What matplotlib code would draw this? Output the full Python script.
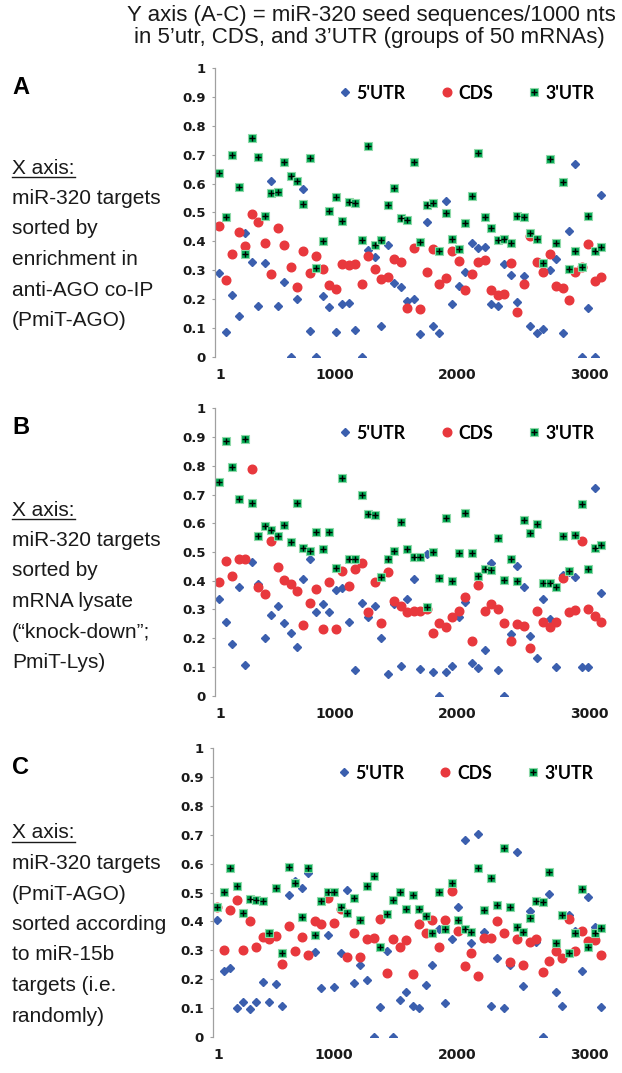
import matplotlib
matplotlib.use("Agg")
import matplotlib.pyplot as plt
import numpy as np
from matplotlib.lines import Line2D
from matplotlib.legend_handler import HandlerTuple

# seed sequences / 1000 nts, 60 groups of 50 mRNAs
utr5_A = [0.289, 0.084, 0.213, 0.142, 0.428, 0.329, 0.177, 0.324, 0.61, 0.177,
          0.258, 0.0, 0.2, 0.582, 0.089, 0.0, 0.21, 0.173, 0.087, 0.182,
          0.185, 0.092, 0.0, 0.37, 0.347, 0.108, 0.387, 0.257, 0.242, 0.194,
          0.201, 0.079, 0.466, 0.108, 0.081, 0.541, 0.182, 0.246, 0.292, 0.394,
          0.378, 0.382, 0.182, 0.176, 0.32, 0.283, 0.191, 0.28, 0.106, 0.083,
          0.097, 0.30, 0.338, 0.083, 0.437, 0.668, 0.0, 0.17, 0.0, 0.56]
cds_A = [0.454, 0.266, 0.355, 0.431, 0.384, 0.494, 0.466, 0.393, 0.286, 0.445,
         0.387, 0.312, 0.243, 0.368, 0.289, 0.349, 0.304, 0.247, 0.234, 0.32,
         0.318, 0.32, 0.251, 0.35, 0.305, 0.269, 0.275, 0.339, 0.327, 0.168,
         0.376, 0.164, 0.295, 0.372, 0.252, 0.272, 0.366, 0.333, 0.231, 0.286,
         0.327, 0.335, 0.231, 0.213, 0.216, 0.324, 0.154, 0.252, 0.418, 0.327,
         0.295, 0.355, 0.245, 0.237, 0.197, 0.295, 0.31, 0.391, 0.264, 0.277]
utr3_A = [0.636, 0.483, 0.70, 0.59, 0.355, 0.757, 0.694, 0.488, 0.566, 0.57,
          0.674, 0.628, 0.61, 0.53, 0.69, 0.309, 0.402, 0.505, 0.555, 0.469,
          0.538, 0.532, 0.405, 0.731, 0.388, 0.403, 0.526, 0.586, 0.48, 0.474,
          0.674, 0.397, 0.527, 0.534, 0.365, 0.499, 0.407, 0.372, 0.465, 0.557,
          0.705, 0.483, 0.447, 0.403, 0.407, 0.394, 0.489, 0.486, 0.43, 0.409,
          0.326, 0.684, 0.394, 0.607, 0.304, 0.368, 0.312, 0.489, 0.368, 0.379]

utr5_B = [0.338, 0.258, 0.18, 0.377, 0.107, 0.464, 0.387, 0.202, 0.281, 0.312,
          0.252, 0.217, 0.171, 0.406, 0.477, 0.29, 0.318, 0.29, 0.368, 0.374,
          0.255, 0.088, 0.321, 0.275, 0.312, 0.202, 0.074, 0.319, 0.104, 0.338,
          0.406, 0.092, 0.492, 0.084, 0.0, 0.084, 0.104, 0.273, 0.325, 0.115,
          0.095, 0.159, 0.461, 0.09, 0.0, 0.213, 0.451, 0.377, 0.209, 0.132,
          0.335, 0.267, 0.101, 0.42, 0.43, 0.414, 0.101, 0.101, 0.724, 0.356]
cds_B = [0.397, 0.468, 0.416, 0.477, 0.474, 0.79, 0.379, 0.355, 0.539, 0.449,
         0.401, 0.387, 0.363, 0.247, 0.321, 0.371, 0.231, 0.396, 0.233, 0.433,
         0.382, 0.441, 0.463, 0.292, 0.396, 0.254, 0.432, 0.328, 0.312, 0.291,
         0.296, 0.296, 0.30, 0.219, 0.252, 0.24, 0.273, 0.294, 0.342, 0.19,
         0.385, 0.296, 0.319, 0.302, 0.254, 0.19, 0.249, 0.244, 0.165, 0.296,
         0.258, 0.24, 0.258, 0.408, 0.292, 0.298, 0.539, 0.302, 0.278, 0.258]
utr3_B = [0.745, 0.886, 0.795, 0.686, 0.894, 0.669, 0.557, 0.59, 0.575, 0.555,
          0.593, 0.535, 0.669, 0.513, 0.503, 0.571, 0.51, 0.568, 0.445, 0.756,
          0.474, 0.477, 0.698, 0.632, 0.629, 0.413, 0.474, 0.505, 0.603, 0.509,
          0.484, 0.484, 0.307, 0.5, 0.408, 0.618, 0.399, 0.497, 0.637, 0.497,
          0.418, 0.442, 0.438, 0.549, 0.402, 0.474, 0.399, 0.613, 0.567, 0.597,
          0.393, 0.393, 0.379, 0.555, 0.435, 0.559, 0.666, 0.441, 0.514, 0.524]

utr5_C = [0.405, 0.228, 0.239, 0.098, 0.119, 0.095, 0.119, 0.188, 0.121, 0.183,
          0.108, 0.491, 0.54, 0.514, 0.566, 0.292, 0.168, 0.353, 0.171, 0.289,
          0.509, 0.185, 0.249, 0.197, 0.0, 0.104, 0.298, 0.0, 0.126, 0.154,
          0.108, 0.098, 0.179, 0.249, 0.373, 0.116, 0.338, 0.451, 0.682, 0.326,
          0.703, 0.362, 0.108, 0.272, 0.098, 0.249, 0.642, 0.176, 0.436, 0.327,
          0.0, 0.495, 0.154, 0.108, 0.422, 0.366, 0.229, 0.486, 0.382, 0.104]
cds_C = [0.45, 0.30, 0.439, 0.474, 0.30, 0.402, 0.31, 0.345, 0.338, 0.35,
         0.252, 0.385, 0.298, 0.347, 0.283, 0.401, 0.391, 0.48, 0.393, 0.442,
         0.275, 0.358, 0.275, 0.338, 0.341, 0.408, 0.22, 0.34, 0.31, 0.335,
         0.216, 0.39, 0.361, 0.405, 0.312, 0.405, 0.505, 0.366, 0.245, 0.291,
         0.21, 0.341, 0.341, 0.402, 0.358, 0.258, 0.339, 0.249, 0.327, 0.339,
         0.223, 0.262, 0.298, 0.274, 0.407, 0.298, 0.366, 0.333, 0.335, 0.283]
utr3_C = [0.451, 0.503, 0.584, 0.523, 0.428, 0.477, 0.474, 0.471, 0.361, 0.514,
          0.289, 0.59, 0.532, 0.414, 0.584, 0.353, 0.471, 0.501, 0.501, 0.449,
          0.43, 0.482, 0.405, 0.523, 0.557, 0.31, 0.424, 0.474, 0.501, 0.443,
          0.491, 0.443, 0.42, 0.361, 0.501, 0.373, 0.532, 0.405, 0.373, 0.362,
          0.584, 0.439, 0.549, 0.457, 0.655, 0.451, 0.382, 0.362, 0.413, 0.472,
          0.468, 0.572, 0.326, 0.422, 0.291, 0.358, 0.512, 0.312, 0.361, 0.376]

series_names = ["5'UTR", "CDS", "3'UTR"]
xtick_labels = ["1", "1000", "2000", "3000"]
ytick_labels = ["0", "0.1", "0.2", "0.3", "0.4", "0.5", "0.6", "0.7", "0.8", "0.9", "1"]

texts_A = ["miR-320 targets", "sorted by", "enrichment in", "anti-AGO co-IP", "(PmiT-AGO)"]
texts_B = ["miR-320 targets", "sorted by", "mRNA lysate", "(\u201cknock-down\u201d;", "PmiT-Lys)"]
texts_C = ["miR-320 targets", "(PmiT-AGO)", "sorted according", "to miR-15b", "targets (i.e.", "randomly)"]

blue = "#3b5fae"
red = "#e8383d"
green = "#00a651"

W, H = 622, 1073
fig = plt.figure(figsize=(W / 100, H / 100), dpi=100)


def fx(x):
    return x / W


def fy(y):
    return 1 - y / H


xpos = np.arange(len(utr5_A))
tick_pos = [0.2, 17.9, 36.8, 57.2]

panels = [
    ("A", 215, 68.3, 356.7, utr5_A, cds_A, utr3_A, texts_A, 87, 168),
    ("B", 215, 408.3, 695.7, utr5_B, cds_B, utr3_B, texts_B, 428, 510),
    ("C", 213, 748.3, 1036.7, utr5_C, cds_C, utr3_C, texts_C, 767, 833),
]

for letter, left, top, bottom, u5, cd, u3, lines, ly, xy in panels:
    ax = fig.add_axes([fx(left), fy(bottom), fx(615 - left), (bottom - top) / H])
    ax.plot(xpos, u5, ls="", marker="D", ms=4.3, color=blue, mec=blue)
    ax.plot(xpos, cd, ls="", marker="o", ms=6.2, color=red, mec=red)
    ax.plot(xpos, u3, ls="", marker="s", ms=5.8, color=green, mec="#8fd9a8", mew=0.8)
    ax.plot(xpos, u3, ls="", marker="+", ms=4.4, color="black", mew=1.0)

    ax.set_ylim(0, 1)
    ax.set_xlim(-0.66, 61.1)
    ax.set_yticks(np.arange(0, 1.01, 0.1))
    ax.set_yticklabels(ytick_labels)
    ax.set_xticks(tick_pos)
    ax.set_xticklabels(xtick_labels)
    for s in ["top", "right", "bottom"]:
        ax.spines[s].set_visible(False)
    ax.spines["left"].set_color("#a0a0a0")
    ax.spines["left"].set_linewidth(0.9)
    ax.tick_params(axis="y", direction="out", length=2.5, width=0.8, color="#a0a0a0",
                   pad=4, labelsize=9.5)
    ax.tick_params(axis="x", length=0, pad=8, labelsize=10)
    for t in ax.get_yticklabels() + ax.get_xticklabels():
        t.set_fontweight("bold")
        t.set_color("#1a1a1a")

    h5 = Line2D([], [], ls="", marker="D", ms=4.3, color=blue)
    hc = Line2D([], [], ls="", marker="o", ms=6.2, color=red)
    h3a = Line2D([], [], ls="", marker="s", ms=5.8, color=green, mec="#8fd9a8", mew=0.8)
    h3b = Line2D([], [], ls="", marker="+", ms=4.4, color="black", mew=1.0)
    ax.legend([h5, hc, (h3a, h3b)], series_names,
              handler_map={tuple: HandlerTuple(ndivide=1, pad=0)},
              ncol=3, loc="center left", bbox_to_anchor=(0.312, 0.914),
              frameon=False, borderpad=0, borderaxespad=0,
              handlelength=0.6, handletextpad=0.35, columnspacing=2.0,
              prop={"family": "Lato", "weight": "bold", "size": 12.8})

    fig.text(fx(12), fy(ly), letter, fontsize=17, fontweight="bold",
             family="Liberation Sans", va="center", ha="left")
    fig.text(fx(12), fy(xy), "X axis:", fontsize=15, family="Liberation Sans",
             va="center", ha="left", color="#1a1a1a")
    for k, line in enumerate(lines):
        fig.text(fx(12), fy(xy + 30.5 * (k + 1)), line, fontsize=15,
                 family="Liberation Sans", va="center", ha="left", color="#1a1a1a")
    fig.add_artist(Line2D([fx(12), fx(75)], [fy(xy + 9), fy(xy + 9)], color="#1a1a1a", lw=1.0))

fig.text(fx(371), fy(15), "Y axis (A-C) = miR-320 seed sequences/1000 nts",
         fontsize=16, family="Liberation Sans", ha="center", va="center", color="#1a1a1a")
fig.text(fx(369), fy(38), "in 5\u2019utr, CDS, and 3\u2019UTR (groups of 50 mRNAs)",
         fontsize=16, family="Liberation Sans", ha="center", va="center", color="#1a1a1a")

fig.savefig("out.png", dpi=100)
